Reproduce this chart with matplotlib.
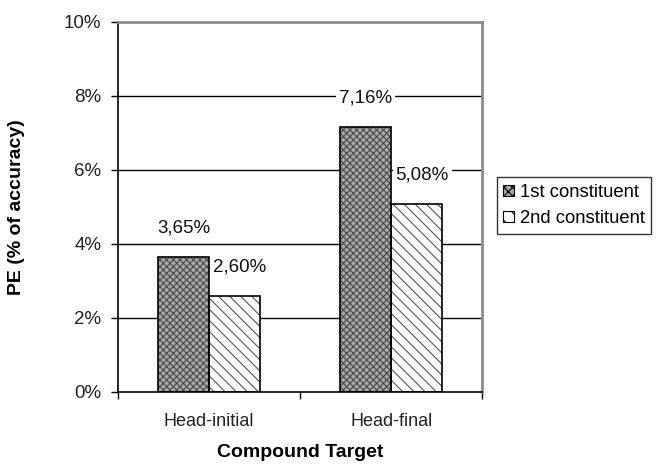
import numpy as np
import matplotlib.pyplot as plt
from matplotlib.patches import Patch
from matplotlib.ticker import FixedLocator

plt.rcParams['font.family'] = ['Liberation Sans', 'DejaVu Sans']
plt.rcParams['hatch.linewidth'] = 0.8

categories = ['Head-initial', 'Head-final']
first = [3.65, 7.16]
second = [2.60, 5.08]
series_names = ['1st constituent', '2nd constituent']
yticks = [0, 2, 4, 6, 8, 10]

fig = plt.figure(figsize=(6.56, 4.68), dpi=100)
ax = fig.add_axes([0.180, 0.1624, 0.555, 0.7906])

x = np.arange(len(categories))
w = 0.28

# horizontal gridlines behind the bars
for t in yticks[1:-1]:
    ax.axhline(t, color='black', lw=1.0, zorder=0)

# filled bars with pattern, then a black outline on top
ax.bar(x - w / 2, first, w, color='#a8a8a8', edgecolor='#4a4a4a',
       hatch='xxxxx', lw=0, zorder=2)
ax.bar(x + w / 2, second, w, color='white', edgecolor='#555555',
       hatch='\\\\\\', lw=0, zorder=2)
ax.bar(x - w / 2, first, w, fill=False, edgecolor='black', lw=1.2, zorder=3)
ax.bar(x + w / 2, second, w, fill=False, edgecolor='black', lw=1.2, zorder=3)

box = dict(facecolor='white', edgecolor='none', pad=2)
for xi, v in zip(x - w / 2, first):
    ax.text(xi, v + 0.78, f'{v:.2f}%'.replace('.', ','), ha='center',
            va='center', fontsize=13.5, color='#111111', bbox=box, zorder=4)
for xi, v in zip(x + w / 2, second):
    ax.text(xi + 0.03, v + 0.78, f'{v:.2f}%'.replace('.', ','), ha='center',
            va='center', fontsize=13.5, color='#111111', bbox=box, zorder=4)

ax.set_xlim(-0.5, 1.5)
ax.set_ylim(0, 10)
ax.set_yticks(yticks)
ax.set_yticklabels([f'{t}%' for t in yticks], fontsize=13.5, color='#222222')
ax.tick_params(axis='y', direction='out', length=5, width=1, pad=7)

ax.set_xticks(x)
ax.set_xticklabels(categories, fontsize=13, color='#222222')
ax.xaxis.set_minor_locator(FixedLocator([-0.5, 0.5, 1.5]))
ax.tick_params(axis='x', which='major', length=0, pad=15)
ax.tick_params(axis='x', which='minor', direction='out', length=5, width=1)

ax.spines['left'].set_linewidth(1.2)
ax.spines['bottom'].set_linewidth(1.2)
ax.spines['top'].set_color('#8c8c8c')
ax.spines['right'].set_color('#8c8c8c')
ax.spines['top'].set_linewidth(2)
ax.spines['right'].set_linewidth(2)

ax.set_xlabel('Compound Target', fontsize=14, fontweight='bold', labelpad=10)
ax.set_ylabel('PE (% of accuracy)', fontsize=14, fontweight='bold', labelpad=28)

# small outlined swatches for the legend
handles = [Patch(facecolor='#a8a8a8', edgecolor='black', hatch='xxxx', lw=0.8),
           Patch(facecolor='white', edgecolor='black', hatch='\\\\', lw=0.8)]
leg = ax.legend(handles, series_names, loc='center left',
                bbox_to_anchor=(1.04, 0.504), fontsize=13.3, frameon=True,
                fancybox=False, edgecolor='black', handlelength=0.6,
                handleheight=0.6, handletextpad=0.3, borderpad=0.35,
                labelspacing=0.5, borderaxespad=0.0)
leg.get_frame().set_linewidth(1)

fig.savefig('out.png', dpi=100)
